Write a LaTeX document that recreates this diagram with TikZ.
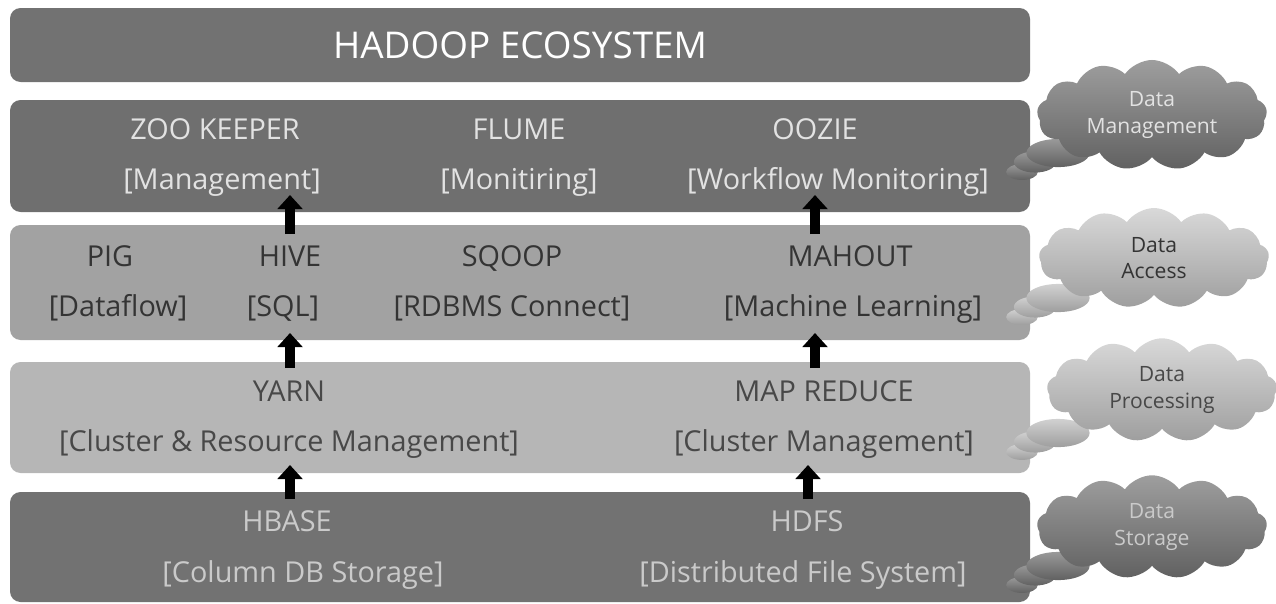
\documentclass[tikz,border=0pt]{standalone}
\usepackage{fontspec}
\setmainfont{Open Sans}
\usetikzlibrary{shapes.symbols,shapes.geometric,arrows.meta}
\definecolor{dark}{HTML}{727272}
\definecolor{mid}{HTML}{A2A2A2}
\definecolor{light}{HTML}{B6B6B6}
\definecolor{paletxt}{HTML}{E2E2E2}
\definecolor{greytxt}{HTML}{CACACA}
\definecolor{inktxt}{HTML}{343434}
\tikzset{
  layer/.style={rounded corners=6pt, draw=none},
  lbl/.style={font=\fontsize{16.4}{18}\selectfont, inner sep=0pt, anchor=base},
  upar/.style={line width=5.2pt, -{Triangle[width=14pt,length=8pt]}, black},
  thought/.style={cloud, cloud puffs=13, cloud puff arc=110, aspect=2.3,
    minimum width=4.6cm, minimum height=2.0cm, draw=none,
    font=\fontsize{12}{15}\selectfont, align=center},
  bubble/.style={ellipse, draw=none, inner sep=0pt},
}
\begin{document}
\begin{tikzpicture}[x=0.02cm,y=-0.02cm]
\useasboundingbox (0,0) rectangle (1276,603);
% layers of the stack
\fill[dark,layer] (10,8) rectangle (1030,82);
\fill[dark!97!black,layer] (10,100) rectangle (1030,212);
\fill[mid,layer] (10,225) rectangle (1030,340);
\fill[light,layer] (10,362) rectangle (1030,473);
\fill[dark,layer] (10,492) rectangle (1030,602);

\node[font=\fontsize{21}{25}\selectfont, text=white, inner sep=0pt] (title) at (520,45) {HADOOP ECOSYSTEM};

% data management layer
\begin{scope}[every node/.style={lbl, text=paletxt}]
\node (zk) at (215,139) {ZOO KEEPER};
\node (zkd) at (222,189) {[Management]};
\node (flume) at (519,139) {FLUME};
\node (flumed) at (519,189) {[Monitiring]};
\node (oozie) at (815,139) {OOZIE};
\node (ooziod) at (838,189) {[Workflow Monitoring]};
\end{scope}

% data access layer
\begin{scope}[every node/.style={lbl, text=inktxt}]
\node (pig) at (110,266) {PIG};
\node (pigd) at (118,316) {[Dataflow]};
\node (hive) at (290,266) {HIVE};
\node (hived) at (283,316) {[SQL]};
\node (sqoop) at (512,266) {SQOOP};
\node (sqoopd) at (512,316) {[RDBMS Connect]};
\node (mahout) at (850,266) {MAHOUT};
\node (mahoutd) at (853,316) {[Machine Learning]};
\end{scope}

% data processing layer
\begin{scope}[every node/.style={lbl, text=inktxt!90!white}]
\node (yarn) at (289,401) {YARN};
\node (yarnd) at (289,451) {[Cluster \& Resource Management]};
\node (mr) at (824,401) {MAP REDUCE};
\node (mrd) at (824,451) {[Cluster Management]};
\end{scope}

% data storage layer
\begin{scope}[every node/.style={lbl, text=greytxt}]
\node (hbase) at (287,531) {HBASE};
\node (hbased) at (303,582) {[Column DB Storage]};
\node (hdfs) at (807,531) {HDFS};
\node (hdfsd) at (803,582) {[Distributed File System]};
\end{scope}

% arrow anchors between layers
\coordinate (a1s) at (290,234); \coordinate (a1e) at (290,195);
\coordinate (b1s) at (815,234); \coordinate (b1e) at (815,195);
\coordinate (a2s) at (290,368); \coordinate (a2e) at (290,333);
\coordinate (b2s) at (815,368); \coordinate (b2e) at (815,333);
\coordinate (a3s) at (290,499); \coordinate (a3e) at (290,465);
\coordinate (b3s) at (808,499); \coordinate (b3e) at (808,465);
\foreach \s/\e in {a1s/a1e,b1s/b1e,a2s/a2e,b2s/b2e,a3s/a3e,b3s/b3e}{
  \draw[upar] (\s) -- (\e);
}

% thought clouds on the right
\newcommand{\thinkcloud}[5]{%
  % #1 name, #2 x, #3 y, #4 top colour, #5 bottom colour
  \node[bubble, top color=#4, bottom color=#5, minimum width=18pt, minimum height=9pt] (#1b3) at (#2-98,#3+57) {};
  \node[bubble, top color=#4, bottom color=#5, minimum width=24pt, minimum height=12pt] (#1b2) at (#2-85,#3+47) {};
  \node[bubble, top color=#4, bottom color=#5, minimum width=36pt, minimum height=16pt] (#1b1) at (#2-62,#3+38) {};
}
\thinkcloud{dm}{1120}{115}{black!40}{black!62}
\node[thought, top color=black!38, bottom color=black!62, text=paletxt] (dmc) at (1152,115) {Data\\Management};
\thinkcloud{da}{1120}{260}{black!18}{black!38}
\node[thought, top color=black!15, bottom color=black!38, text=inktxt] (dac) at (1154,258) {Data\\Access};
\thinkcloud{dp}{1120}{395}{black!18}{black!38}
\node[thought, top color=black!15, bottom color=black!38, text=inktxt!90!white] (dpc) at (1162,390) {Data\\Processing};
\thinkcloud{ds}{1120}{528}{black!40}{black!62}
\node[thought, top color=black!38, bottom color=black!62, text=greytxt] (dsc) at (1152,527) {Data\\Storage};
\end{tikzpicture}
\end{document}
